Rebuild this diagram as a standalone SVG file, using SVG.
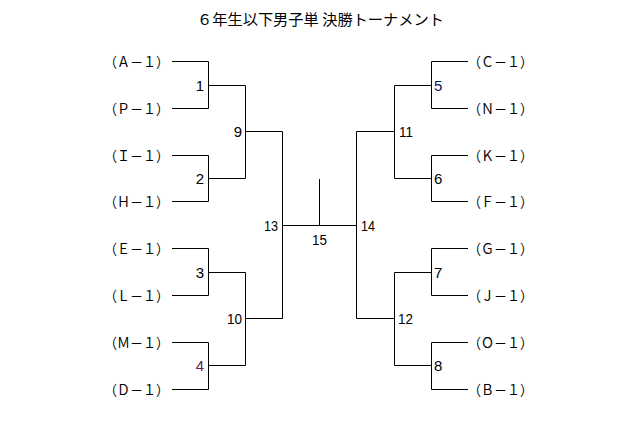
<svg xmlns="http://www.w3.org/2000/svg" width="640" height="429" viewBox="0 0 640 429">
<style>
.ln{fill:none;stroke:#000;stroke-width:1}
.lb{font-family:"Noto Sans CJK JP","Noto Sans CJK SC",sans-serif;font-size:14px;fill:#000}
.nm{font-family:"Liberation Sans",Arial,sans-serif;font-size:15px;fill:#000}
.nl{text-anchor:end}
.tt{font-family:"Noto Sans CJK JP","Noto Sans CJK SC",sans-serif;font-size:15px;fill:#000}
</style>
<rect width="640" height="429" fill="#fff"/>
<text class="tt" x="197" y="25" textLength="247" lengthAdjust="spacingAndGlyphs">６年生以下男子単 決勝トーナメント</text>
<g id="connectors">
<path class="ln" d="M172 61.5H208.5V108.5H172M208.5 85.5H245.5M172 155.5H208.5V201.5H172M208.5 178.5H245.5M245.5 85.5V178.5M245.5 131.5H282.5"/>
<path class="ln" d="M172 248.5H208.5V295.5H172M208.5 272.5H245.5M172 342.5H208.5V389.5H172M208.5 365.5H245.5M245.5 272.5V365.5M245.5 318.5H282.5"/>
<path class="ln" d="M282.5 131.5V318.5M282.5 225.5H356.5M319.5 179V225.5M356.5 131.5V318.5"/>
<path class="ln" d="M468 61.5H431.5V108.5H468M431.5 85.5H394.5M468 155.5H431.5V201.5H468M431.5 178.5H394.5M394.5 85.5V178.5M394.5 131.5H356.5"/>
<path class="ln" d="M468 248.5H431.5V295.5H468M431.5 272.5H394.5M468 342.5H431.5V389.5H468M431.5 365.5H394.5M394.5 272.5V365.5M394.5 318.5H356.5"/>
</g>
<g id="entrants-left">
<text id="A" class="lb" x="104" y="67" textLength="65" lengthAdjust="spacingAndGlyphs">（Ａ－１）</text>
<text id="P" class="lb" x="104" y="114" textLength="65" lengthAdjust="spacingAndGlyphs">（Ｐ－１）</text>
<text id="I" class="lb" x="104" y="161" textLength="65" lengthAdjust="spacingAndGlyphs">（Ｉ－１）</text>
<text id="H" class="lb" x="104" y="207" textLength="65" lengthAdjust="spacingAndGlyphs">（Ｈ－１）</text>
<text id="E" class="lb" x="104" y="254" textLength="65" lengthAdjust="spacingAndGlyphs">（Ｅ－１）</text>
<text id="L" class="lb" x="104" y="301" textLength="65" lengthAdjust="spacingAndGlyphs">（Ｌ－１）</text>
<text id="M" class="lb" x="104" y="348" textLength="65" lengthAdjust="spacingAndGlyphs">（Ｍ－１）</text>
<text id="D" class="lb" x="104" y="395" textLength="65" lengthAdjust="spacingAndGlyphs">（Ｄ－１）</text>
</g>
<g id="entrants-right">
<text id="C" class="lb" x="468" y="67" textLength="65" lengthAdjust="spacingAndGlyphs">（Ｃ－１）</text>
<text id="N" class="lb" x="468" y="114" textLength="65" lengthAdjust="spacingAndGlyphs">（Ｎ－１）</text>
<text id="K" class="lb" x="468" y="161" textLength="65" lengthAdjust="spacingAndGlyphs">（Ｋ－１）</text>
<text id="F" class="lb" x="468" y="207" textLength="65" lengthAdjust="spacingAndGlyphs">（Ｆ－１）</text>
<text id="G" class="lb" x="468" y="254" textLength="65" lengthAdjust="spacingAndGlyphs">（Ｇ－１）</text>
<text id="J" class="lb" x="468" y="301" textLength="65" lengthAdjust="spacingAndGlyphs">（Ｊ－１）</text>
<text id="O" class="lb" x="468" y="348" textLength="65" lengthAdjust="spacingAndGlyphs">（Ｏ－１）</text>
<text id="B" class="lb" x="468" y="395" textLength="65" lengthAdjust="spacingAndGlyphs">（Ｂ－１）</text>
</g>
<g id="matches">
<text id="m1" class="nm nl" x="204" y="91">1</text>
<text id="m2" class="nm nl" x="204" y="184">2</text>
<text id="m3" class="nm nl" x="204" y="278">3</text>
<text id="m4" class="nm nl" x="204" y="371" style="fill:#602060">4</text>
<text id="m9" class="nm nl" x="242" y="137">9</text>
<text id="m10" class="nm nl" x="242" y="324" textLength="15" lengthAdjust="spacingAndGlyphs">10</text>
<text id="m13" class="nm nl" x="278" y="231" textLength="14" lengthAdjust="spacingAndGlyphs">13</text>
<text id="m15" class="nm" x="312" y="245" textLength="15" lengthAdjust="spacingAndGlyphs">15</text>
<text id="m14" class="nm" x="361" y="231" textLength="14" lengthAdjust="spacingAndGlyphs">14</text>
<text id="m11" class="nm" x="399" y="137" textLength="14" lengthAdjust="spacingAndGlyphs">11</text>
<text id="m12" class="nm" x="398" y="324" textLength="15" lengthAdjust="spacingAndGlyphs">12</text>
<text id="m5" class="nm" x="434" y="91" style="fill:#101060">5</text>
<text id="m6" class="nm" x="434" y="184">6</text>
<text id="m7" class="nm" x="434" y="278">7</text>
<text id="m8" class="nm" x="434" y="371">8</text>
</g>
</svg>
